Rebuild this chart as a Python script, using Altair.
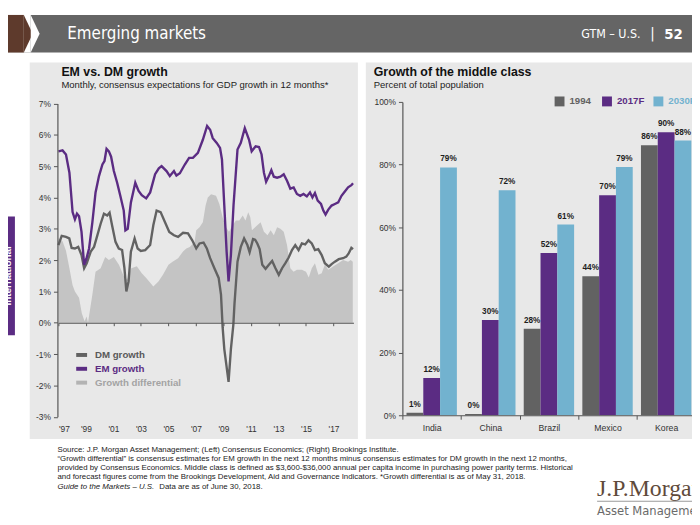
import altair as alt
import pandas as pd

# ---------------- data: left panel (monthly consensus, % y/y) ----------------
em_year = [1997.0, 1997.3, 1997.55, 1997.8, 1998.03, 1998.2, 1998.35, 1998.5, 1998.68, 1998.87,
           1999.04, 1999.23, 1999.47, 1999.7, 1999.95, 2000.2, 2000.35, 2000.5, 2000.67, 2000.83,
           2001.03, 2001.27, 2001.5, 2001.75, 2001.87, 2002.04, 2002.27, 2002.59, 2002.83, 2003.06,
           2003.38, 2003.67, 2004.03, 2004.3, 2004.5, 2004.86, 2005.1, 2005.4, 2005.58, 2005.83,
           2006.19, 2006.5, 2006.78, 2007.14, 2007.5, 2007.81, 2008.03, 2008.22, 2008.51, 2008.75,
           2008.89, 2009.06, 2009.23, 2009.37, 2009.54, 2009.73, 2010.02, 2010.26, 2010.55, 2010.86,
           2011.05, 2011.34, 2011.58, 2011.77, 2011.94, 2012.1, 2012.3, 2012.48, 2012.66, 2012.9,
           2013.14, 2013.38, 2013.62, 2013.86, 2014.1, 2014.34, 2014.58, 2014.82, 2015.06, 2015.29,
           2015.47, 2015.65, 2015.85, 2016.09, 2016.26, 2016.42, 2016.62, 2016.86, 2017.1, 2017.34,
           2017.58, 2017.81, 2018.06, 2018.3, 2018.42]
em_val = [5.47, 5.5, 5.37, 4.79, 3.53, 3.3, 3.48, 3.4, 2.9, 1.85,
          2.05, 2.37, 3.21, 4.16, 4.68, 5.05, 5.16, 5.55, 5.47, 5.3,
          4.84, 4.47, 4.05, 3.58, 2.95, 3.0, 3.84, 4.47, 4.21, 4.07,
          3.97, 4.16, 4.74, 4.93, 5.0, 4.84, 4.68, 4.84, 4.7, 4.77,
          5.05, 5.26, 5.26, 5.42, 5.84, 6.28, 6.16, 5.89, 5.74, 5.58,
          5.21, 3.74, 2.26, 1.32, 2.16, 3.74, 5.53, 5.74, 6.21, 5.84,
          5.47, 5.63, 5.61, 5.37, 4.79, 4.5, 4.68, 4.87, 4.66, 4.63,
          4.66, 4.74, 4.53, 4.28, 4.32, 4.11, 4.05, 4.11, 4.03, 4.16,
          4.0, 4.14, 3.9, 3.79, 3.58, 3.45, 3.61, 3.74, 3.79, 3.84,
          4.05, 4.18, 4.32, 4.39, 4.45]

dm_year = [1997.0, 1997.24, 1997.55, 1997.79, 1997.96, 1998.2, 1998.44, 1998.68, 1998.87, 1999.06,
           1999.35, 1999.59, 1999.83, 2000.07, 2000.31, 2000.55, 2000.72, 2000.9, 2001.15, 2001.39,
           2001.63, 2001.8, 2001.94, 2002.1, 2002.27, 2002.54, 2002.76, 2002.99, 2003.31, 2003.67,
           2003.9, 2004.14, 2004.43, 2004.75, 2005.06, 2005.4, 2005.7, 2006.06, 2006.42, 2006.73,
           2007.02, 2007.26, 2007.55, 2007.79, 2008.03, 2008.34, 2008.65, 2008.82, 2008.94, 2009.06,
           2009.37, 2009.54, 2009.72, 2009.8, 2010.02, 2010.26, 2010.5, 2010.74, 2010.9, 2011.15,
           2011.3, 2011.46, 2011.63, 2011.82, 2012.06, 2012.3, 2012.54, 2012.78, 2013.02, 2013.26,
           2013.5, 2013.74, 2013.98, 2014.22, 2014.46, 2014.7, 2014.94, 2015.18, 2015.42, 2015.65,
           2015.89, 2016.14, 2016.37, 2016.66, 2016.86, 2017.1, 2017.38, 2017.7, 2017.93, 2018.1,
           2018.3, 2018.42]
dm_val = [2.48, 2.77, 2.74, 2.69, 2.39, 2.37, 2.42, 2.16, 1.74, 1.9,
          2.27, 2.42, 2.79, 3.16, 3.48, 3.42, 3.51, 3.11, 2.58, 2.37,
          2.32, 1.74, 1.0, 1.32, 2.27, 2.69, 2.37, 2.29, 2.32, 2.48,
          3.11, 3.58, 3.53, 3.21, 2.9, 2.79, 2.74, 2.87, 2.85, 2.63,
          2.37, 2.53, 2.56, 2.37, 2.06, 1.74, 1.43, 0.9, -0.15, -0.84,
          -1.89, -0.84, -0.05, 0.6, 1.95, 2.42, 2.69, 2.48, 2.25, 2.67,
          2.65, 2.53, 2.35, 1.85, 1.72, 1.85, 1.97, 1.74, 1.53, 1.74,
          1.9, 2.08, 2.32, 2.48, 2.32, 2.53, 2.5, 2.63, 2.53, 2.32,
          2.35, 2.16, 1.9, 1.79, 1.87, 1.95, 2.03, 2.06, 2.11, 2.21,
          2.39, 2.35]

gd_year = [1997.0, 1997.3, 1997.55, 1997.8, 1998.03, 1998.2, 1998.5, 1998.7, 1998.9, 1999.05,
           1999.15, 1999.47, 1999.7, 2000.07, 2000.4, 2000.67, 2001.03, 2001.4, 2001.75, 2002.0,
           2002.3, 2002.7, 2003.06, 2003.4, 2003.9, 2004.27, 2004.6, 2005.0, 2005.3, 2005.7,
           2006.06, 2006.3, 2006.55, 2006.9, 2007.02, 2007.26, 2007.5, 2007.7, 2007.86, 2008.1,
           2008.46, 2008.7, 2008.94, 2009.18, 2009.4, 2009.66, 2009.9, 2010.15, 2010.4, 2010.6,
           2010.8, 2010.95, 2011.07, 2011.3, 2011.7, 2011.94, 2012.2, 2012.43, 2012.66, 2012.9,
           2013.14, 2013.38, 2013.62, 2013.86, 2014.1, 2014.34, 2014.7, 2015.0, 2015.2, 2015.42,
           2015.65, 2015.9, 2016.14, 2016.37, 2016.62, 2017.0, 2017.34, 2017.7, 2018.06, 2018.25,
           2018.4]
gd_val = [2.7, 2.6, 2.3, 1.74, 1.2, 1.0, 0.8, 0.3, 0.05, 0.2,
          0.0, 0.9, 1.63, 1.74, 2.1, 2.0, 2.1, 1.85, 1.48, 1.37,
          1.74, 1.8, 1.58, 1.42, 1.16, 1.32, 1.53, 1.85, 1.95, 2.06,
          2.27, 2.37, 2.42, 2.58, 2.95, 3.05, 3.21, 3.74, 4.0, 4.1,
          4.05, 3.79, 3.37, 3.05, 2.9, 3.1, 3.26, 3.26, 3.42, 3.26,
          3.53, 3.37, 2.95, 3.05, 3.21, 2.9, 2.79, 2.95, 2.79, 3.05,
          3.0, 2.9, 2.48, 1.74, 1.63, 1.69, 1.69, 1.63, 1.44, 1.74,
          1.9, 1.53, 1.58, 1.85, 1.69, 1.8, 1.9, 2.0, 1.95, 2.0,
          1.95]

year_ticks = [1997, 1999, 2001, 2003, 2005, 2007, 2009, 2011, 2013, 2015, 2017]
pct_ticks_left = [-3, -2, -1, 0, 1, 2, 3, 4, 5, 6, 7]
left_series = ["DM growth", "EM growth", "Growth differential"]

# ---------------- data: right panel (middle class, % of population) ----------------
countries = ["India", "China", "Brazil", "Mexico", "Korea"]
series = ["1994", "2017F", "2030F"]
mc_1994 = [0.8, 0.4, 27.6, 44.4, 86.2]
mc_2017 = [11.9, 30.4, 51.8, 70.2, 90.3]
mc_2030 = [79.1, 71.8, 60.9, 79.2, 87.7]
pct_ticks_right = [0, 20, 40, 60, 80, 100]

# ---------------- styling ----------------
PURPLE = "#5b2c83"
DARK = "#626262"
BLUE = "#72b2cf"
AREA = "#c4c4c4"
PANEL = "#e8e8e8"
SANS = "Liberation Sans, Arial, sans-serif"
NARROW = "Liberation Sans Narrow, DejaVu Sans Condensed, Liberation Sans, sans-serif"
SERIF = "Liberation Serif, Times New Roman, serif"
W, H = 692, 517


def px(v):  # window -> canvas (page has an 8px margin)
    return v - 8


one = pd.DataFrame({"k": [0]})


def box(x1, x2, y1, y2, color):
    return alt.Chart(one).mark_rect(color=color).encode(
        x=alt.value(px(x1)), x2=alt.value(px(x2)), y=alt.value(px(y1)), y2=alt.value(px(y2)))


def txt(s, x, y, size, color="#222222", weight="normal", align="left", font=SANS,
        style="normal", angle=0, baseline="middle"):
    return alt.Chart(one).mark_text(
        text=s, align=align, baseline=baseline, fontSize=size, fontWeight=weight,
        color=color, font=font, fontStyle=style, angle=angle).encode(
        x=alt.value(px(x)), y=alt.value(px(y)))


def tri(xc, yc, color):
    return alt.Chart(one).mark_point(
        shape="M -0.237 -1 L 0.237 0 L -0.237 1 Z", size=1444, filled=True,
        color=color, opacity=1, strokeWidth=0).encode(x=alt.value(px(xc)), y=alt.value(px(yc)))


layers = []

# header
layers += [
    box(0, 700, 12, 50, "#656565"),
    box(0, 31, 12, 50, "#ffffff"),
    box(0, 24, 12, 50, "#5e3a2c"),
    tri(28.5, 31, "#5e3a2c"),
    tri(35.5, 31, "#ffffff"),
    txt("Emerging markets", 68, 31, 17, "#ffffff", font=NARROW),
    txt("GTM – U.S.", 648, 31, 12.5, "#ffffff", align="right", font=NARROW),
    txt("|", 660, 30, 15, "#ffffff", align="center", font=NARROW),
    txt("52", 672, 31, 15, "#ffffff", weight="bold", font=NARROW),
]

# panel backgrounds + side tab
layers += [
    box(30, 362, 60, 441, PANEL),
    box(370, 700, 60, 441, PANEL),
    box(0, 15, 216, 336, PURPLE),
    txt("International", 8, 276, 10, "#ffffff", weight="bold", align="center", angle=270),
]

# titles
layers += [
    txt("EM vs. DM growth", 62, 70, 12.5, "#111111", weight="bold"),
    txt("Monthly, consensus expectations for GDP growth in 12 months*", 62, 83, 9.6, "#222222"),
    txt("Growth of the middle class", 378, 70, 12.5, "#111111", weight="bold"),
    txt("Percent of total population", 378, 83, 9.6, "#222222"),
]

# ---------------- left chart ----------------
lx = alt.Scale(domain=[1997, 2018.45], range=[px(59), px(357.5)], nice=False, zero=False)
ly_bottom, ly_top = px(418.5), px(101.5)
ly = alt.Scale(domain=[-3, 7], range=[ly_bottom, ly_top], nice=False, zero=False)
zero_y = ly_bottom - (ly_bottom - ly_top) * 0.3

left_x_axis = alt.Axis(orient="bottom", offset=zero_y - H, values=year_ticks,
                       labelExpr="\"'\" + format(datum.value % 100, '02d')",
                       tickSize=3, tickColor="#555555", domainColor="#555555", domainWidth=1.2,
                       labelFontSize=8.5, labelColor="#333333", labelFont=SANS,
                       labelPadding=px(426) - zero_y - 3, grid=False, title=None, zindex=1)
left_y_axis = alt.Axis(orient="left", offset=-px(58), values=pct_ticks_left,
                       labelExpr="datum.value + '%'", tickSize=4, tickColor="#555555",
                       domainColor="#555555", domainWidth=1.2, labelFontSize=8.5,
                       labelColor="#333333", labelFont=SANS, labelPadding=3, grid=False,
                       title=None, zindex=1)

gd_df = pd.DataFrame({"year": gd_year, "value": gd_val})
dm_df = pd.DataFrame({"year": dm_year, "value": dm_val})
em_df = pd.DataFrame({"year": em_year, "value": em_val})

area = alt.Chart(gd_df).mark_area(color=AREA).encode(
    x=alt.X("year:Q", scale=lx, axis=left_x_axis),
    y=alt.Y("value:Q", scale=ly, axis=left_y_axis))
dm_line = alt.Chart(dm_df).mark_line(color=DARK, strokeWidth=2.4).encode(
    x=alt.X("year:Q", scale=lx, axis=left_x_axis),
    y=alt.Y("value:Q", scale=ly, axis=left_y_axis))
em_line = alt.Chart(em_df).mark_line(color=PURPLE, strokeWidth=2.4).encode(
    x=alt.X("year:Q", scale=lx, axis=left_x_axis),
    y=alt.Y("value:Q", scale=ly, axis=left_y_axis))
layers.append(alt.layer(area, dm_line, em_line))

# left legend
for name, sym_col, txt_col, yy in zip(left_series, [DARK, PURPLE, "#b3b3b3"],
                                      ["#595959", PURPLE, "#a3a3a3"], [356, 370, 384]):
    layers.append(box(77, 88, yy - 2, yy + 2, sym_col))
    layers.append(txt(name, 96, yy, 9.8, txt_col, weight="bold"))

# ---------------- right chart ----------------
rows = []
for i, c in enumerate(countries):
    for s, vals in zip(series, [mc_1994, mc_2017, mc_2030]):
        rows.append({"country": c, "series": s, "value": vals[i], "label": f"{round(vals[i])}%"})
mc_df = pd.DataFrame(rows)

rx = alt.Scale(domain=countries, range=[px(407), px(703.5)], paddingInner=0, paddingOuter=0)
ry = alt.Scale(domain=[0, 100], range=[px(417), px(100)], nice=False, zero=True)
roff = alt.Scale(domain=series, paddingOuter=0.245, paddingInner=0)

right_x_axis = alt.Axis(orient="bottom", offset=px(417) - H, tickBand="extent", tickSize=4,
                        tickColor="#555555", domainColor="#555555", domainWidth=1.2,
                        labelFontSize=8.8, labelColor="#333333", labelFont=SANS, labelPadding=4,
                        labelAngle=0, grid=False, title=None, zindex=1)
right_y_axis = alt.Axis(orient="left", offset=-px(407), values=pct_ticks_right,
                        labelExpr="datum.value + '%'", tickSize=4, tickColor="#555555",
                        domainColor="#555555", domainWidth=1.2, labelFontSize=8.5,
                        labelColor="#333333", labelFont=SANS, labelPadding=3, grid=False,
                        title=None, zindex=1)

bars = alt.Chart(mc_df).mark_bar().encode(
    x=alt.X("country:N", scale=rx, sort=countries, axis=right_x_axis),
    xOffset=alt.XOffset("series:N", scale=roff, sort=series),
    y=alt.Y("value:Q", scale=ry, axis=right_y_axis),
    color=alt.Color("series:N", scale=alt.Scale(domain=series, range=[DARK, PURPLE, BLUE]),
                    legend=None))
bar_labels = alt.Chart(mc_df).mark_text(
    baseline="bottom", dy=-4, fontSize=8.3, fontWeight="bold", color="#1e1e1e", font=SANS).encode(
    x=alt.X("country:N", scale=rx, sort=countries, axis=right_x_axis),
    xOffset=alt.XOffset("series:N", scale=roff, sort=series),
    y=alt.Y("value:Q", scale=ry, axis=right_y_axis),
    text="label:N")
layers.append(alt.layer(bars, bar_labels))

# right legend
for name, col, xs in zip(series, [DARK, PURPLE, BLUE], [561, 609, 661]):
    layers.append(box(xs, xs + 10, 94.5, 104.5, col))
    layers.append(txt(name, xs + 15, 99.5, 9.8, col, weight="bold"))

# ---------------- footer ----------------
foot = [
    "Source: J.P. Morgan Asset Management; (Left) Consensus Economics; (Right) Brookings Institute.",
    "“Growth differential” is consensus estimates for EM growth in the next 12 months minus consensus estimates for DM growth in the next 12 months,",
    "provided by Consensus Economics. Middle class is defined as $3,600-$36,000 annual per capita income in purchasing power parity terms. Historical",
    "and forecast figures come from the Brookings Development, Aid and Governance Indicators. *Growth differential is as of May 31, 2018.",
]
FOOT_SIZE = 7.95
for i, line in enumerate(foot):
    layers.append(txt(line, 58, 452 + i * 9.3, FOOT_SIZE, "#222222"))
layers.append(txt("Guide to the Markets – U.S.", 58, 489.2, FOOT_SIZE, "#222222", style="italic"))
layers.append(txt("Data are as of June 30, 2018.", 161, 489.2, FOOT_SIZE, "#222222"))

# logo
layers += [
    txt("J.P.Morgan", 604, 492, 24, "#5f4a3b", font=SERIF),
    box(604, 700, 503.5, 504.5, "#9a9a9a"),
    txt("Asset Management", 604, 514, 13, "#6a6a6a", font=NARROW),
]

chart = alt.layer(*layers).resolve_scale(
    x="independent", y="independent"
).properties(
    width=W, height=H, padding=0, background="white",
    autosize=alt.AutoSizeParams(type="none"),
).configure_view(stroke=None)

chart.save("out.html", embed_options={"renderer": "svg", "actions": False})
